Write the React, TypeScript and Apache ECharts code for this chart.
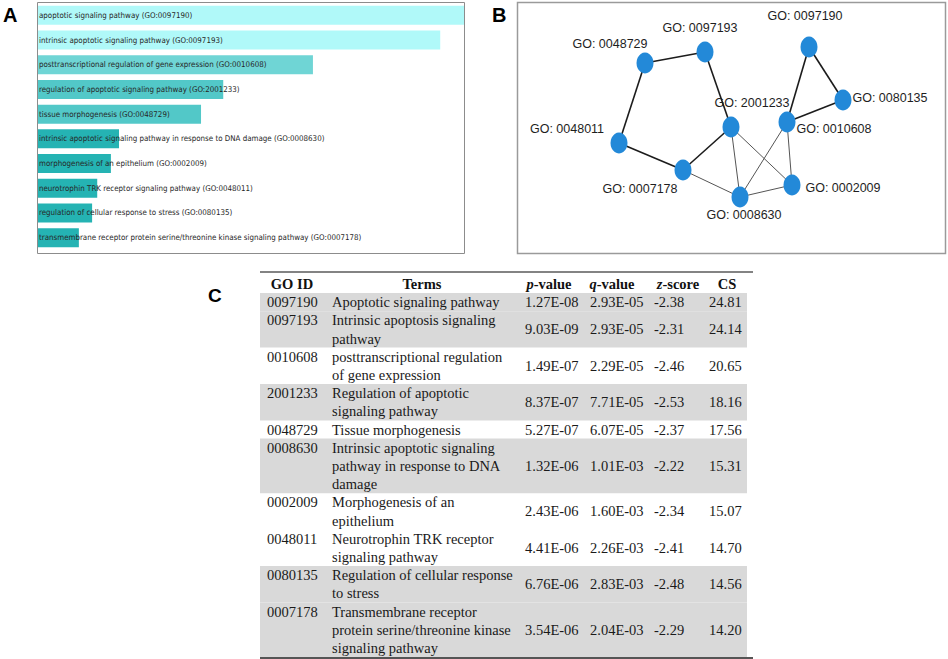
import React, { useEffect, useRef } from "react";
import * as echarts from "echarts";

// ---------- Panel A data ----------
const barTerms = [
  "apoptotic signaling pathway (GO:0097190)",
  "intrinsic apoptotic signaling pathway (GO:0097193)",
  "posttranscriptional regulation of gene expression (GO:0010608)",
  "regulation of apoptotic signaling pathway (GO:2001233)",
  "tissue morphogenesis (GO:0048729)",
  "intrinsic apoptotic signaling pathway in response to DNA damage (GO:0008630)",
  "morphogenesis of an epithelium (GO:0002009)",
  "neurotrophin TRK receptor signaling pathway (GO:0048011)",
  "regulation of cellular response to stress (GO:0080135)",
  "transmembrane receptor protein serine/threonine kinase signaling pathway (GO:0007178)",
];
const barScores = [100, 94.4, 64.6, 43.6, 38.4, 19.2, 17.3, 14.1, 12.9, 9.8];

// ---------- Panel B data ----------
const nodeNames = [
  "GO: 0097190",
  "GO: 0080135",
  "GO: 0010608",
  "GO: 2001233",
  "GO: 0048729",
  "GO: 0097193",
  "GO: 0048011",
  "GO: 0007178",
  "GO: 0008630",
  "GO: 0002009",
];
const nodeX = [292, 326, 270, 214, 128, 188, 102, 166, 223, 275];
const nodeY = [45, 98, 120, 125, 61, 50, 141, 168, 195, 183];
const linkSources = [
  "GO: 0048729", "GO: 0048729", "GO: 0097193", "GO: 0048011", "GO: 0007178",
  "GO: 0007178", "GO: 2001233", "GO: 2001233", "GO: 0008630", "GO: 0008630",
  "GO: 0010608", "GO: 0010608", "GO: 0010608", "GO: 0097190",
];
const linkTargets = [
  "GO: 0097193", "GO: 0048011", "GO: 2001233", "GO: 0007178", "GO: 2001233",
  "GO: 0008630", "GO: 0008630", "GO: 0002009", "GO: 0002009", "GO: 0010608",
  "GO: 0002009", "GO: 0097190", "GO: 0080135", "GO: 0080135",
];
const linkWeights = [2, 2, 2, 2, 2, 1, 1, 1, 1, 1, 1, 2, 2, 2];

// ---------- Panel C data ----------
const tableHeaders = ["GO ID", "Terms", "p-value", "q-value", "z-score", "CS"];
const goIds = ["0097190", "0097193", "0010608", "2001233", "0048729", "0008630", "0002009", "0048011", "0080135", "0007178"];
const termNames = [
  "Apoptotic signaling pathway",
  "Intrinsic apoptosis signaling\npathway",
  "posttranscriptional regulation\nof gene expression",
  "Regulation of apoptotic\nsignaling pathway",
  "Tissue morphogenesis",
  "Intrinsic apoptotic signaling\npathway in response to DNA\ndamage",
  "Morphogenesis of an\nepithelium",
  "Neurotrophin TRK receptor\nsignaling pathway",
  "Regulation of cellular response\nto stress",
  "Transmembrane receptor\nprotein serine/threonine kinase\nsignaling pathway",
];
const pValues = ["1.27E-08", "9.03E-09", "1.49E-07", "8.37E-07", "5.27E-07", "1.32E-06", "2.43E-06", "4.41E-06", "6.76E-06", "3.54E-06"];
const qValues = ["2.93E-05", "2.93E-05", "2.29E-05", "7.71E-05", "6.07E-05", "1.01E-03", "1.60E-03", "2.26E-03", "2.83E-03", "2.04E-03"];
const zScores = ["-2.38", "-2.31", "-2.46", "-2.53", "-2.37", "-2.22", "-2.34", "-2.41", "-2.48", "-2.29"];
const combinedScores = ["24.81", "24.14", "20.65", "18.16", "17.56", "15.31", "15.07", "14.70", "14.56", "14.20"];
const shadedRows = [true, true, false, true, false, true, false, false, true, true];

// ---------- styles ----------
const barColors = ["#b0f9f9", "#b0f9f9", "#6fd5d5", "#52c8c8", "#52c8c8", "#25b3b3", "#25b3b3", "#25b3b3", "#25b3b3", "#25b3b3"];
const labelOffsets = [
  [-4, -31], [47, -2], [47, 7], [21, -24], [-35, -19],
  [-5, -24], [-52, -14], [-43, 19], [4, 18], [51, 3],
];
const SERIF = "'Liberation Serif', 'Times New Roman', serif";
const SANS = "'Liberation Sans', Arial, sans-serif";
const NARROW = "'Liberation Sans Narrow', 'DejaVu Sans Condensed', 'Liberation Sans', sans-serif";

function buildTable() {
  const els: any[] = [];
  const left = 260;
  const right = 753;
  const topRule = 272;
  const headerMid = 284;
  const bodyTop = 293;
  const lh = 18.2;
  const colX = [267, 332, 525, 590, 654, 709];
  const headCenter = [292, 422, 549, 612, 678, 727];

  els.push({
    type: "line",
    shape: { x1: left, y1: topRule, x2: right, y2: topRule },
    style: { stroke: "#5a5a5a", lineWidth: 1.5 },
  });
  const headerRich: any = {
    b: { fontFamily: SERIF, fontSize: 14.5, fontWeight: "bold", fill: "#111" },
    i: { fontFamily: SERIF, fontSize: 14.5, fontWeight: "bold", fontStyle: "italic", fill: "#111" },
  };
  const headerTexts = tableHeaders.map((h) => {
    const m = h.match(/^([pqz])(-.*)$/);
    return m ? `{i|${m[1]}}{b|${m[2]}}` : `{b|${h}}`;
  });
  headerTexts.forEach((t, i) => {
    els.push({
      type: "text",
      style: {
        text: t, x: headCenter[i], y: headerMid, rich: headerRich,
        align: "center", textAlign: "center", verticalAlign: "middle", textVerticalAlign: "middle",
      },
    });
  });

  let y = bodyTop;
  const cell = (text: string, x: number, yy: number) => ({
    type: "text",
    style: {
      text, x, y: yy, fontFamily: SERIF, fontSize: 14.5, fill: "#1a1a1a", lineHeight: lh,
      align: "left", textAlign: "left", verticalAlign: "middle", textVerticalAlign: "middle",
    },
  });
  goIds.forEach((id, r) => {
    const lines = termNames[r].split("\n").length;
    const h = lines * lh;
    if (shadedRows[r]) {
      els.push({ type: "rect", shape: { x: left, y, width: 487, height: h }, style: { fill: "#d9d9d9" }, z: -1 });
    }
    const mid = y + h / 2;
    els.push(cell(id, colX[0], y + lh / 2));
    els.push(cell(termNames[r], colX[1], mid));
    els.push(cell(pValues[r], colX[2], mid));
    els.push(cell(qValues[r], colX[3], mid));
    els.push(cell(zScores[r], colX[4], mid));
    els.push(cell(combinedScores[r], colX[5], mid));
    y += h;
  });
  els.push({
    type: "line",
    shape: { x1: left, y1: y + 1, x2: right, y2: y + 1 },
    style: { stroke: "#555", lineWidth: 2 },
  });
  return els;
}

export default function App() {
  const ref = useRef<HTMLDivElement>(null);
  useEffect(() => {
    document.body.style.margin = "0";
    const chart = echarts.init(ref.current!, null, { renderer: "svg" });
    const nodes = nodeNames.map((n, i) => ({
      name: n,
      value: [nodeX[i], nodeY[i]],
      label: { position: "inside", offset: labelOffsets[i] },
    }));
    const links = linkSources.map((s, i) => ({
      source: s,
      target: linkTargets[i],
      lineStyle: linkWeights[i] > 1 ? { width: 1.6, color: "#1c1c1c" } : { width: 1, color: "#555" },
    }));
    chart.setOption({
      animation: false,
      backgroundColor: "#fff",
      grid: [
        { left: 37, top: 3, width: 428, height: 247 },
        { left: 517, top: 2, width: 429, height: 252 },
      ],
      xAxis: [
        { type: "value", gridIndex: 0, min: 0, max: 100.2, show: false },
        { type: "value", gridIndex: 1, min: 0, max: 429, show: false },
      ],
      yAxis: [
        { type: "category", gridIndex: 0, data: barTerms, inverse: true, show: false },
        { type: "value", gridIndex: 1, min: 0, max: 252, inverse: true, show: false },
      ],
      series: [
        {
          type: "bar",
          xAxisIndex: 0,
          yAxisIndex: 0,
          barWidth: 19,
          data: barScores.map((v, i) => ({ value: v, itemStyle: { color: barColors[i] } })),
          label: {
            show: true,
            position: "insideLeft",
            distance: 2,
            formatter: (p: any) => barTerms[p.dataIndex],
            fontFamily: NARROW,
            fontSize: 7.9,
            color: "#262626",
          },
          emphasis: { disabled: true },
          silent: true,
        },
        {
          type: "graph",
          coordinateSystem: "cartesian2d",
          xAxisIndex: 1,
          yAxisIndex: 1,
          symbol: "circle",
          symbolSize: [17, 21],
          itemStyle: { color: "#2389d8" },
          label: { show: true, formatter: "{b}", fontFamily: SANS, fontSize: 12.5, color: "#1e1e1e" },
          lineStyle: { opacity: 1, curveness: 0 },
          data: nodes,
          links,
          emphasis: { disabled: true },
          silent: true,
          z: 3,
        },
      ],
      graphic: [
        { type: "rect", shape: { x: 37.5, y: 2.5, width: 427, height: 251 }, style: { fill: "none", stroke: "#8c8c8c", lineWidth: 1 }, z: 10 },
        { type: "rect", shape: { x: 517.5, y: 2.5, width: 428, height: 251 }, style: { fill: "none", stroke: "#9a9a9a", lineWidth: 1.5 }, z: 10 },
        { type: "text", style: { text: "A", x: 3, y: 15, fontFamily: SANS, fontWeight: "bold", fontSize: 20, fill: "#000", verticalAlign: "middle", textVerticalAlign: "middle" } },
        { type: "text", style: { text: "B", x: 492, y: 15, fontFamily: SANS, fontWeight: "bold", fontSize: 20, fill: "#000", verticalAlign: "middle", textVerticalAlign: "middle" } },
        { type: "text", style: { text: "C", x: 208, y: 295, fontFamily: SANS, fontWeight: "bold", fontSize: 19, fill: "#000", verticalAlign: "middle", textVerticalAlign: "middle" } },
        ...buildTable(),
      ],
    });
    return () => chart.dispose();
  }, []);
  return <div ref={ref} style={{ width: 948, height: 659 }} />;
}
